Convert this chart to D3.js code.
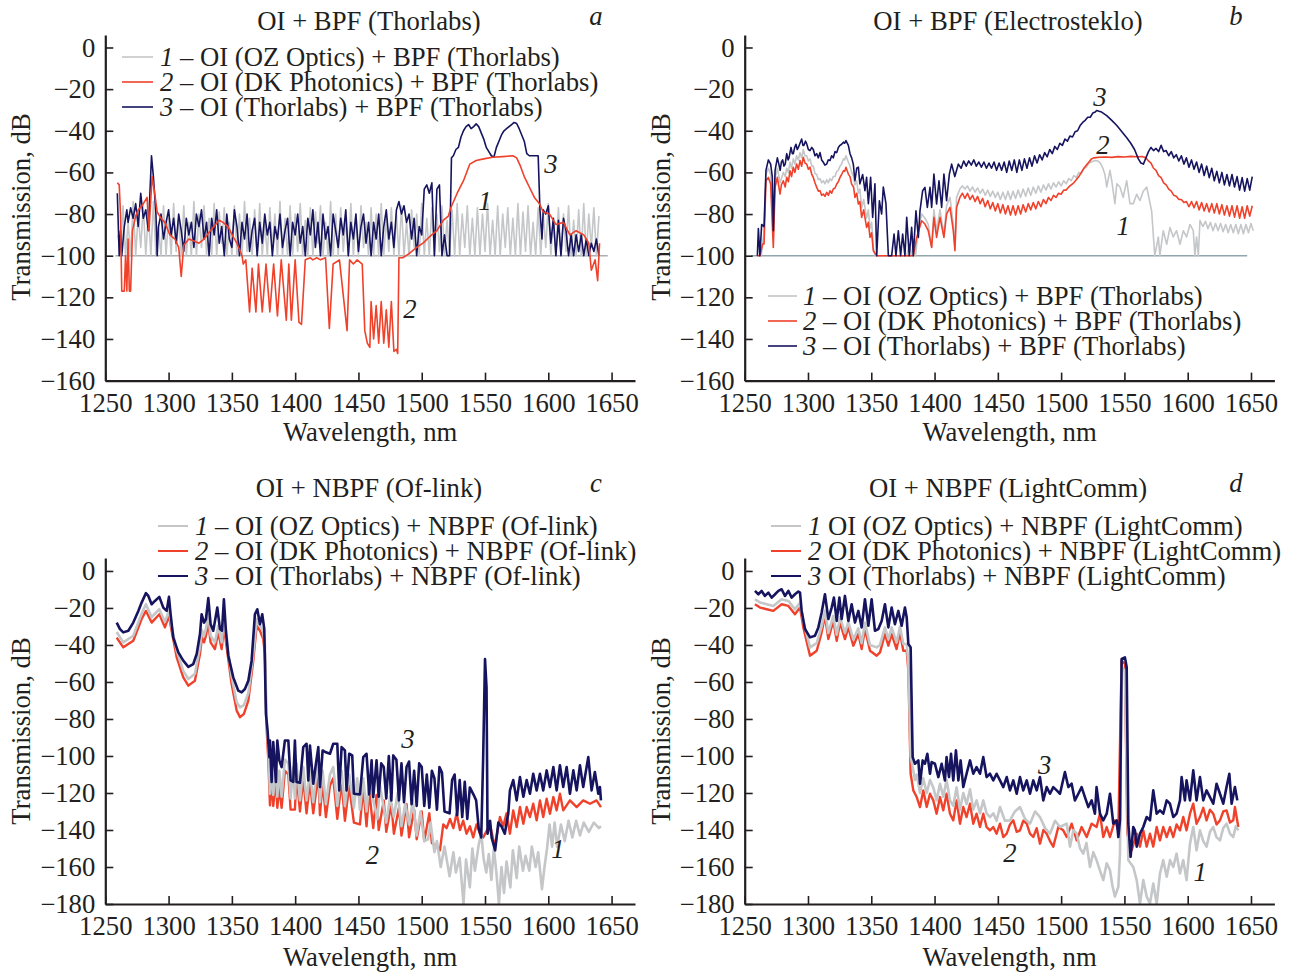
<!DOCTYPE html>
<html><head><meta charset="utf-8">
<script src="https://cdn.jsdelivr.net/npm/d3@7/dist/d3.min.js"></script>
<style>
body{margin:0;background:#fff;}
svg text{font-family:"Liberation Serif","Times New Roman",serif;fill:#231f20;}
</style></head><body>
<svg id="chart" width="1292" height="974"></svg>
<script>
// ---------------- DATA ----------------
const xTicks = [1250,1300,1350,1400,1450,1500,1550,1600,1650];
const yTicksTop = [0,-20,-40,-60,-80,-100,-120,-140,-160];
const yTicksBottom = [0,-20,-40,-60,-80,-100,-120,-140,-160,-180];
const titles = ["OI + BPF (Thorlabs)","OI + BPF (Electrosteklo)","OI + NBPF (Of-link)","OI + NBPF (LightComm)"];
const panelLetters = ["a","b","c","d"];
const legendNums = ["1","2","3"];
const legendA = [" – OI (OZ Optics) + BPF (Thorlabs)"," – OI (DK Photonics) + BPF (Thorlabs)"," – OI (Thorlabs) + BPF (Thorlabs)"];
const legendB = legendA;
const legendC = [" – OI (OZ Optics) + NBPF (Of-link)"," – OI (DK Photonics) + NBPF (Of-link)"," – OI (Thorlabs) + NBPF (Of-link)"];
const legendD = [" OI (OZ Optics) + NBPF (LightComm)"," OI (DK Photonics) + NBPF (LightComm)"," OI (Thorlabs) + NBPF (LightComm)"];
const floorDb = -100;
const floorA = [1258,1647];
const floorB = [1255,1647];
// annotation labels [nm, dB, text]
const notesA = [[1550,-73.6,"1"],[1490.7,-125.5,"2"],[1602,-55.8,"3"]];
const notesB = [[1549,-85.6,"1"],[1533,-46.6,"2"],[1530.7,-23.6,"3"]];
const notesC = [[1607.7,-150.4,"1"],[1461,-153.6,"2"],[1489,-90.6,"3"]];
const notesD = [[1609.8,-162.8,"1"],[1459.6,-152.5,"2"],[1487,-105,"3"]];

// Panel a
const sA1 = [[1260,-90],[1262,-100],[1264,-76],[1266,-100],[1268,-84],[1270,-100],[1272,-74],[1274,-100],[1276,-80],[1278,-96],[1280,-76],[1282,-100],[1284,-79],[1286,-100],[1288,-74],[1290,-100],[1292,-86],[1294,-100],[1296,-76],[1298,-100],[1300,-80],[1302,-100],[1304,-75],[1306,-98],[1308,-82],[1310,-100],[1312,-76],[1314,-100],[1316,-84],[1318,-100],[1320,-74],[1322,-100],[1324,-80],[1326,-96],[1328,-76],[1330,-100],[1332,-82],[1334,-100],[1336,-75],[1338,-100],[1340,-79],[1342,-94],[1344,-77],[1346,-100],[1348,-84],[1350,-100],[1352,-76],[1354,-100],[1356,-80],[1358,-100],[1360,-74],[1362,-98],[1364,-82],[1366,-100],[1368,-78],[1370,-100],[1372,-75],[1374,-100],[1376,-84],[1378,-100],[1380,-77],[1382,-96],[1384,-80],[1386,-100],[1388,-74],[1390,-100],[1392,-82],[1394,-100],[1396,-76],[1398,-100],[1400,-80],[1402,-98],[1404,-75],[1406,-100],[1408,-83],[1410,-100],[1412,-77],[1414,-100],[1416,-79],[1418,-94],[1420,-76],[1422,-100],[1424,-84],[1426,-100],[1428,-74],[1430,-100],[1432,-80],[1434,-100],[1436,-77],[1438,-98],[1440,-82],[1442,-100],[1444,-75],[1446,-100],[1448,-80],[1450,-100],[1452,-76],[1454,-96],[1456,-84],[1458,-100],[1460,-77],[1462,-100],[1464,-80],[1466,-100],[1468,-75],[1470,-100],[1472,-82],[1474,-98],[1476,-77],[1478,-100],[1480,-80],[1482,-100],[1484,-76],[1486,-100],[1488,-84],[1490,-100],[1492,-78],[1494,-96],[1496,-80],[1498,-100],[1500,-75],[1502,-100],[1504,-82],[1506,-100],[1508,-77],[1510,-100],[1512,-80],[1514,-98],[1516,-76],[1518,-100],[1520,-83],[1522,-100],[1524,-78],[1526,-100],[1528,-75],[1530,-100],[1532,-80],[1534,-96],[1536,-76],[1538,-100],[1540,-82],[1542,-100],[1544,-77],[1546,-100],[1548,-80],[1550,-98],[1552,-75],[1554,-100],[1556,-83],[1558,-100],[1560,-76],[1562,-100],[1564,-80],[1566,-96],[1568,-77],[1570,-100],[1572,-82],[1574,-100],[1576,-75],[1578,-100],[1580,-79],[1582,-98],[1584,-76],[1586,-100],[1588,-84],[1590,-100],[1592,-77],[1594,-100],[1596,-80],[1598,-96],[1600,-75],[1602,-100],[1604,-82],[1606,-100],[1608,-77],[1610,-100],[1612,-80],[1614,-98],[1616,-76],[1618,-100],[1620,-83],[1622,-100],[1624,-78],[1626,-100],[1628,-75],[1630,-100],[1632,-80],[1634,-96],[1636,-77],[1638,-100],[1640,-81]];
const sA2 = [[1259.5,-65],[1261,-66],[1262,-80],[1263,-117],[1265,-117],[1266,-100],[1267,-117],[1268,-92],[1269,-117],[1270,-117],[1271.5,-88],[1274,-81],[1276,-78],[1279,-76],[1281,-74],[1283,-72],[1284.5,-88],[1287,-62],[1289,-70],[1291,-79],[1294,-82],[1297,-84],[1301,-90],[1305,-92],[1308,-96],[1310,-110],[1312,-95],[1316,-92],[1320,-93],[1324,-94],[1328,-92],[1333,-88],[1340,-83],[1343,-84],[1347,-86],[1351,-91],[1354,-94],[1358,-100],[1359,-104],[1361,-102],[1364,-127],[1366,-106],[1369,-127],[1371,-104],[1374,-127],[1377,-104],[1380,-127],[1383,-104],[1386,-129],[1389,-102],[1393,-131],[1395,-104],[1397,-131],[1400,-102],[1403,-132],[1405,-133],[1408,-102],[1412,-101],[1414,-102],[1417,-101],[1420,-102],[1424,-101],[1427,-135],[1430,-104],[1435,-102],[1441,-136],[1443,-102],[1446,-104],[1449,-102],[1453,-104],[1455,-136],[1457,-142],[1459,-144],[1460,-122],[1462,-140],[1464,-124],[1466,-142],[1468,-122],[1470,-142],[1472,-126],[1474,-144],[1476,-122],[1478,-146],[1480,-145],[1481,-147],[1482,-101],[1485,-101],[1490,-99],[1496,-96],[1501,-94],[1506,-91],[1512,-88],[1517,-83],[1521,-81],[1523,-77],[1528,-70],[1533,-64],[1538,-56],[1543,-54.3],[1549,-53.5],[1556,-52.7],[1564,-52.4],[1572,-52],[1575,-53],[1578,-57],[1581,-62],[1585,-67],[1589,-72],[1593,-75],[1596,-79],[1601,-80],[1606,-85],[1612,-84],[1617,-90],[1622,-88],[1628,-90],[1632,-94],[1634,-107],[1637,-102],[1639,-112],[1640.5,-94]];
const sA3 = [[1259.5,-70],[1261,-100],[1262,-88],[1263,-100],[1265,-86],[1267,-78],[1268,-84],[1270,-77],[1272,-82],[1274,-75],[1276,-86],[1278,-70],[1280,-82],[1282,-78],[1284,-88],[1286.5,-52],[1288,-62],[1290,-80],[1291,-100],[1292,-86],[1294,-80],[1296,-92],[1298,-84],[1300,-78],[1302,-90],[1304,-82],[1306,-94],[1308,-80],[1310,-88],[1312,-98],[1314,-82],[1316,-90],[1318,-84],[1320,-96],[1322,-80],[1324,-86],[1326,-78],[1328,-92],[1330,-84],[1332,-100],[1334,-82],[1336,-90],[1338,-78],[1340,-94],[1342,-86],[1344,-100],[1346,-80],[1348,-92],[1350,-96],[1352,-78],[1354,-86],[1356,-100],[1358,-84],[1360,-92],[1362,-80],[1364,-98],[1366,-88],[1368,-82],[1370,-100],[1372,-84],[1374,-94],[1376,-80],[1378,-90],[1380,-84],[1382,-100],[1384,-86],[1386,-92],[1388,-80],[1390,-96],[1392,-88],[1394,-82],[1396,-100],[1398,-84],[1400,-90],[1402,-80],[1404,-94],[1406,-86],[1408,-100],[1410,-82],[1412,-90],[1414,-78],[1416,-96],[1418,-84],[1420,-100],[1422,-80],[1424,-92],[1426,-86],[1428,-100],[1430,-80],[1432,-88],[1434,-96],[1436,-82],[1438,-90],[1440,-78],[1442,-100],[1444,-84],[1446,-92],[1448,-80],[1450,-98],[1452,-86],[1454,-80],[1456,-94],[1458,-84],[1460,-100],[1462,-84],[1464,-92],[1466,-80],[1468,-100],[1470,-86],[1472,-78],[1474,-92],[1476,-84],[1478,-96],[1480,-78],[1482,-74],[1484,-80],[1486,-76],[1488,-84],[1490,-80],[1492,-92],[1494,-82],[1496,-100],[1498,-86],[1500,-90],[1502,-68],[1504,-66],[1506,-70],[1508,-65],[1510,-100],[1512,-68],[1514,-66],[1516,-100],[1518,-90],[1520,-100],[1522,-100],[1523.5,-53],[1525,-52],[1527,-49],[1529,-48],[1531,-43],[1533,-40],[1535,-38],[1537,-37],[1539,-39],[1541,-38],[1543,-36.7],[1545,-38],[1547,-41],[1549,-44],[1551,-48],[1553,-50],[1555,-52],[1557,-52.7],[1559,-48],[1561,-45],[1563,-42],[1565,-40],[1567,-39],[1569,-38],[1571,-37],[1573,-36],[1575,-36.5],[1577,-39],[1579,-42],[1581,-45],[1583,-51],[1585,-52],[1588,-52],[1592,-52],[1593.4,-78],[1595,-92],[1596,-78],[1598,-80],[1600,-76],[1602,-94],[1604,-82],[1606,-100],[1608,-83],[1610,-100],[1612,-82],[1614,-88],[1616,-100],[1618,-90],[1620,-100],[1622,-90],[1624,-98],[1626,-90],[1628,-100],[1630,-92],[1632,-100],[1634,-94],[1636,-98],[1638,-92],[1640,-100]];

// Panel b
const sB1 = [[1260,-100],[1263,-100],[1265,-90],[1266.8,-61],[1268.7,-58],[1270.5,-61],[1272.6,-92],[1274,-63],[1275.8,-58],[1278,-65],[1280.5,-60],[1282,-62],[1283.2,-58],[1284.5,-60],[1285.8,-55],[1287,-58],[1288.4,-53.5],[1289.7,-56],[1291,-52],[1292.4,-54],[1293.7,-50.5],[1295,-53],[1296.3,-49],[1297.6,-52],[1299,-52],[1300.3,-54.5],[1301.6,-53.5],[1303,-57],[1304.2,-57],[1305.5,-60.5],[1306.9,-61],[1308.2,-63.5],[1309.5,-63],[1310.8,-65],[1312.1,-64],[1313.4,-65.5],[1314.8,-63.5],[1316.1,-65],[1317.4,-63],[1318.7,-64],[1320,-62],[1321.4,-62],[1322.7,-59.5],[1324,-59],[1325.3,-57],[1326.6,-56],[1328,-53.5],[1329,-54],[1330,-52],[1331.9,-55],[1333.2,-57],[1334.5,-60],[1336,-62],[1337.1,-66],[1338.5,-64],[1339.8,-70],[1341,-68],[1342.4,-77],[1344,-73],[1346.3,-82],[1347.7,-78],[1349,-87],[1350.3,-84],[1351.6,-96],[1353,-100],[1378,-100],[1380,-95],[1381.9,-100],[1383.5,-92],[1385,-100],[1387,-88],[1389.8,-80],[1392.4,-82],[1395,-85],[1397.7,-96],[1399.5,-78],[1401.6,-88],[1404.3,-78],[1407.4,-90],[1409.5,-76],[1412.2,-72],[1414.8,-85],[1416.1,-96],[1417.4,-72],[1420,-68],[1422,-66.5],[1424,-68],[1426,-66.5],[1428,-69],[1430,-67],[1432,-69.5],[1434,-67.5],[1436,-70],[1438,-68],[1440,-71],[1442,-68.5],[1444,-71.5],[1446,-69],[1448,-72],[1450,-69.5],[1452,-73],[1454,-69.5],[1456,-73],[1458,-69],[1460,-73],[1462,-69],[1464,-72.5],[1466,-68.5],[1468,-72],[1470,-68],[1472,-71.5],[1474,-67.5],[1476,-71],[1478,-67],[1480,-70],[1482,-66.5],[1484,-69.5],[1486,-66],[1488,-68.5],[1490,-65.5],[1492,-68],[1494,-65],[1496,-67],[1498,-64.5],[1500,-66.5],[1502,-64],[1504,-65.5],[1506,-63],[1508,-64],[1510,-61.5],[1512,-62.5],[1514,-60],[1516,-60.5],[1518,-58],[1520,-57.5],[1522,-55.5],[1524,-55],[1526.7,-54.3],[1529,-54.5],[1531,-55.5],[1533,-58],[1534.6,-61],[1536,-67],[1538.6,-59],[1540,-64],[1542.5,-75],[1544,-65.5],[1546.5,-67],[1549,-72],[1551.8,-64],[1554.4,-75],[1557,-75],[1559.7,-70.5],[1562.3,-73.5],[1564.9,-69],[1567.6,-67],[1571.5,-78.5],[1574,-100],[1576.8,-91],[1578,-100],[1580.7,-88],[1583.4,-94.5],[1586,-86.5],[1588.6,-91],[1591.2,-88],[1593.9,-94.5],[1596.5,-88],[1599.1,-91],[1601.8,-85],[1604.4,-88],[1605.7,-100],[1607,-91],[1608.4,-100],[1609.7,-83],[1612,-86],[1614,-83.5],[1616,-87],[1618,-84],[1620,-88],[1622,-84.5],[1624,-88],[1626,-84.5],[1628,-88.5],[1630,-85],[1632,-89],[1634,-85],[1636,-89],[1638,-85],[1640,-89.5],[1642,-85],[1644,-89.5],[1646,-85],[1648,-89],[1650,-84.5],[1651.8,-88]];
const sB2 = [[1260,-100],[1262.1,-100],[1264.2,-94.4],[1265.3,-94.4],[1266.8,-64],[1268.7,-62.4],[1270.5,-65.6],[1272.6,-96],[1274,-67.2],[1275.8,-62.4],[1277.9,-70.4],[1279,-66],[1280.5,-64],[1282,-67],[1283.2,-62.4],[1284.5,-64.5],[1285.8,-59.2],[1287,-62],[1288.4,-57.5],[1289.7,-60],[1291,-56],[1292.4,-58.5],[1293.7,-54.3],[1295,-57],[1296.3,-52.7],[1297.6,-55.5],[1299,-56],[1300.3,-58.5],[1301.6,-57.5],[1303,-61],[1304.2,-62.4],[1305.5,-65],[1306.9,-67.2],[1308.2,-69],[1309.5,-68.8],[1310.8,-71],[1312.1,-70.4],[1313.4,-71.5],[1314.8,-69.6],[1316.1,-71],[1317.4,-68.8],[1318.7,-70],[1320,-68],[1321.4,-67.5],[1322.7,-65.6],[1324,-64.5],[1325.3,-62.4],[1326.6,-61],[1328,-59.2],[1329,-59.5],[1330,-57.5],[1331.9,-60.8],[1333.2,-62],[1334.5,-65.6],[1336,-67],[1337.1,-72],[1338.5,-70],[1339.8,-75.2],[1341,-74],[1342.4,-81.6],[1344,-78],[1346.3,-86.4],[1347.7,-84],[1349,-91.2],[1350.3,-89],[1351.6,-97.6],[1354.3,-100],[1383.2,-100],[1385.9,-91.2],[1389.8,-83.2],[1392.4,-84.8],[1395,-88],[1397.7,-96],[1399.5,-81.6],[1401.6,-91.2],[1404.3,-81.6],[1407.4,-91.2],[1409.5,-80],[1412.2,-76.8],[1414.8,-88],[1416.1,-97.6],[1417.4,-76.8],[1420,-72],[1422,-70],[1424,-72.5],[1426,-70],[1428,-73],[1430,-71],[1432,-74],[1434,-71.5],[1436,-75],[1438,-72.5],[1440,-76.5],[1442,-73.5],[1444,-77.5],[1446,-74.5],[1448,-78.5],[1450,-75],[1452,-79.5],[1454,-75.5],[1456,-80],[1458,-76],[1460,-80.5],[1462,-76],[1464,-80.5],[1466,-76],[1468,-80],[1470,-75.5],[1472,-79],[1474,-75],[1476,-78],[1478,-74.5],[1480,-77.5],[1482,-74],[1484,-76.5],[1486,-73],[1488,-75],[1490,-72],[1492,-73.5],[1494,-71],[1496,-72],[1498,-70],[1500,-70.5],[1502,-68.5],[1504,-68.5],[1506,-67],[1508,-66],[1510,-65],[1512,-63.5],[1514,-62],[1516,-60],[1518,-58],[1520,-56.5],[1522,-55],[1524,-53.5],[1526,-53],[1530,-52.7],[1535,-52.6],[1540,-52.8],[1545,-52.4],[1550,-52.6],[1555,-52.3],[1560,-52.5],[1564,-52.4],[1567,-53],[1569,-54.5],[1571,-55.5],[1573,-58],[1575,-59],[1577,-61.5],[1579,-62.5],[1581,-65],[1583,-66],[1585,-68],[1587,-69],[1589,-71],[1591,-71.5],[1593,-73],[1595,-73],[1597,-74.5],[1599,-74],[1601,-76.5],[1603,-74],[1605,-77],[1607,-74],[1609,-78],[1611,-74.5],[1613,-78.5],[1615,-75],[1617,-79],[1619,-75],[1621,-79.5],[1623,-75],[1625,-80],[1627,-75.5],[1629,-80.5],[1631,-76],[1633,-81],[1635,-76],[1637,-81.5],[1639,-76],[1641,-82],[1643,-76.5],[1645,-82],[1647,-76],[1649,-81],[1651,-76]];
const sB3 = [[1260,-100],[1260.8,-87],[1262,-100],[1263.4,-85],[1265.3,-86],[1266.8,-59],[1268.7,-54],[1270.5,-56],[1271.8,-62],[1272.6,-88],[1274,-59],[1275.8,-53],[1277,-56],[1278,-59],[1279,-55],[1280,-54],[1281,-57],[1282,-56],[1283.2,-51],[1284.3,-54],[1285,-53],[1286.6,-48],[1287.6,-51],[1288.4,-51],[1289.5,-48],[1290.5,-46.5],[1291.5,-49],[1292.4,-48],[1293.7,-46],[1295,-44],[1296,-47],[1296.8,-47],[1298,-45],[1299,-46.3],[1300.3,-49],[1301.6,-49.5],[1303,-48],[1304.2,-49],[1305.5,-52],[1306.9,-51],[1308.2,-53],[1309.5,-50.5],[1310.8,-54],[1312,-55],[1313.4,-56.5],[1314.8,-56],[1316,-54],[1317.4,-54.3],[1318.7,-52],[1320,-53],[1321.4,-50],[1322.7,-50.5],[1324,-48],[1325.3,-47],[1326.6,-46.5],[1328,-45.5],[1329,-46],[1330,-44.7],[1331.9,-47],[1333.2,-51],[1334.5,-53],[1335.8,-56],[1337.1,-64],[1338.5,-58],[1339.8,-57.5],[1341,-65.5],[1343.2,-61],[1345,-68.8],[1346.3,-62.4],[1347.7,-75],[1349.5,-62.4],[1351.1,-81.6],[1352.9,-65.5],[1354.3,-100],[1356.4,-73.6],[1358.2,-80],[1359.5,-67],[1361.6,-75],[1363.5,-100],[1366.1,-100],[1368,-89.6],[1369.5,-100],[1371.4,-88],[1373.2,-100],[1374.8,-89.6],[1376.6,-100],[1378,-81.6],[1380,-100],[1381.9,-86.4],[1383.2,-100],[1385.3,-78.4],[1387.2,-91.2],[1388.5,-78.4],[1390.6,-68.8],[1392.4,-67.2],[1394.3,-76.8],[1396.4,-67.2],[1397.7,-76.8],[1399.5,-60.8],[1401.6,-75.2],[1403.5,-64],[1405.6,-76.8],[1407.4,-60.8],[1409.5,-73.6],[1411.7,-60.8],[1413.5,-56],[1416,-62],[1418.8,-56],[1421,-58],[1423,-54.5],[1425,-57],[1427,-54.5],[1429,-56.5],[1431,-54],[1433,-57],[1435,-55],[1437,-57.5],[1439,-55],[1441,-58],[1443,-55.5],[1445,-58],[1447,-55],[1449,-59],[1451,-55.5],[1453,-59],[1455,-55],[1457,-60],[1459,-54.5],[1461,-59],[1463,-54],[1465,-60],[1467,-54],[1469,-59],[1471,-53.5],[1473,-58],[1475,-53],[1477,-57],[1479,-52],[1481,-55.5],[1483,-51.5],[1485,-54],[1487,-50.5],[1489,-52.5],[1491,-49],[1493,-51],[1495,-47.5],[1497,-49],[1499,-46],[1501,-47],[1503,-44],[1505,-45],[1507,-42.5],[1509,-43],[1511,-40.5],[1513,-40],[1515,-37.5],[1517,-36],[1519,-35],[1521,-33.5],[1523,-33.5],[1525,-31.5],[1527,-31],[1528,-30.3],[1532,-31],[1536,-32.7],[1540,-35],[1544,-37.5],[1548,-40.5],[1552,-43.5],[1555,-46],[1558,-49],[1561,-53.5],[1563,-55.5],[1565,-56],[1567,-53],[1569,-50],[1571,-48],[1573,-49.5],[1575,-48.5],[1577,-50],[1579,-47],[1581,-50],[1583,-49.5],[1585,-52],[1587,-50],[1589,-53],[1591,-51.5],[1593,-54.5],[1595,-52],[1597,-56],[1599,-53],[1601,-57.5],[1603,-54],[1605,-58.5],[1607,-55],[1609,-60],[1611,-56],[1613,-61.5],[1615,-57],[1617,-62.5],[1619,-58],[1621,-64],[1623,-59.5],[1625,-65],[1627,-60],[1629,-66],[1631,-61],[1633,-66.5],[1635,-61],[1637,-67],[1639,-62],[1641,-68.5],[1643,-62.5],[1645,-69],[1647,-63],[1649,-68.5],[1651,-62]];

// Panel c
const sC1 = [[1259,-33],[1264.2,-38.6],[1272.1,-35],[1278.7,-23],[1282.1,-18],[1286.6,-25],[1292.7,-20.7],[1297.1,-27.5],[1300.3,-21.6],[1302.4,-30],[1306.4,-43],[1311.6,-54],[1315.6,-58.4],[1320.8,-55.5],[1324.8,-41],[1326.4,-32],[1328,-35],[1329.5,-31.5],[1331.4,-23.4],[1333.2,-35],[1336.6,-38.6],[1339.3,-29.6],[1341.9,-38.6],[1343.7,-26],[1345.9,-37.7],[1349.8,-57],[1353.8,-71],[1356.4,-73.7],[1359.5,-72.5],[1363,-66],[1366.9,-45],[1369.6,-26],[1372.2,-29.6],[1374.8,-33],[1376.1,-40],[1377.4,-80],[1378.8,-95.2],[1380.1,-120.4],[1381.4,-106],[1382.7,-121],[1384.8,-104],[1385.9,-122],[1387.5,-108],[1389.3,-122],[1391.9,-102],[1394.6,-104],[1396.4,-123],[1398.5,-106],[1399.8,-123],[1401.1,-104],[1403.8,-124],[1406.4,-106],[1409,-124],[1411.7,-108],[1414.3,-125],[1416.4,-112],[1418.3,-104],[1419.6,-125],[1421.7,-108],[1424.3,-126],[1427.5,-110],[1430.1,-106],[1433.3,-127],[1436.7,-108],[1439.3,-127],[1442.7,-110],[1446.4,-128],[1449,-112],[1451.2,-129],[1453.8,-112],[1456.4,-130],[1458.5,-114],[1461.7,-124],[1465,-134],[1467,-116],[1470,-128],[1472,-136],[1475,-122],[1478,-133],[1481,-120],[1484,-138],[1487,-126],[1490,-137],[1493,-124],[1496,-143],[1499,-130],[1502,-146],[1505,-145],[1507,-136],[1510,-152],[1512,-146],[1515,-160],[1518,-149],[1522,-165],[1525,-152],[1527,-163],[1530,-155],[1533,-180],[1535,-156],[1538,-171],[1540,-150],[1542,-162],[1545,-148],[1547,-142],[1549,-156],[1551,-163],[1553,-153],[1555,-167],[1557,-150],[1559,-163],[1561,-180],[1563,-160],[1565,-174],[1567,-157],[1570,-171],[1572,-151],[1575,-166],[1577,-149],[1580,-162],[1582,-154],[1585,-162],[1587,-149],[1590,-160],[1592,-152],[1595,-172],[1597,-160],[1599,-150],[1601,-137],[1603,-149],[1605,-136],[1607,-149],[1610,-137],[1613,-146],[1616,-135],[1619,-144],[1622,-135],[1625,-143],[1628,-136],[1632,-141],[1636,-136],[1640,-139],[1641.6,-138]];
const sC2 = [[1259,-36],[1264.2,-41.3],[1272.1,-37.7],[1278.7,-26],[1282.1,-21.6],[1286.6,-27.9],[1292.7,-23.4],[1297.1,-30.5],[1300.3,-24.3],[1302.4,-32.3],[1306.4,-46.7],[1311.6,-57.5],[1315.6,-62],[1320.8,-59.3],[1324.8,-44.9],[1326.4,-35.9],[1328,-38.6],[1329.5,-35],[1331.4,-28],[1333.2,-38.6],[1336.6,-42.2],[1339.3,-33.2],[1341.9,-42.2],[1343.7,-30.5],[1345.9,-41.3],[1349.8,-61.1],[1353.8,-75.5],[1356.4,-79],[1359.5,-77.3],[1363,-70.1],[1366.9,-48.5],[1369.6,-29.6],[1372.2,-32.3],[1374.8,-36.8],[1376.1,-44.9],[1377.4,-84.5],[1378.8,-102.4],[1380.1,-126.7],[1381.4,-114],[1382.7,-127],[1384.8,-112],[1385.9,-128],[1387.5,-117],[1389.3,-128],[1391.9,-108],[1394.6,-110],[1396.4,-129],[1399.8,-129],[1401.1,-110],[1403.8,-130],[1406.4,-112],[1409,-131],[1411.7,-114],[1414.3,-131],[1418.3,-110],[1419.6,-132],[1421.7,-114],[1424.3,-133],[1427.5,-116],[1430.1,-112],[1433.3,-134],[1436.7,-114],[1439.3,-135],[1442.7,-116],[1446.4,-136],[1451.2,-137],[1453.8,-117],[1456.4,-138],[1458.5,-119],[1461.7,-139],[1464.3,-121],[1466,-140],[1470,-124],[1472,-141],[1476,-126],[1478,-142],[1482,-128],[1484,-143],[1488,-126],[1490,-144],[1494,-129],[1496,-145],[1500,-130],[1502,-146],[1506,-131],[1508,-147],[1511.8,-149],[1514.4,-151],[1517,-137],[1519.7,-139],[1522.3,-134],[1525,-139],[1527.6,-131],[1530.2,-140],[1532.8,-135],[1535.4,-142],[1538.1,-138],[1540.7,-144],[1543.3,-137],[1546,-142],[1548.6,-144],[1553.9,-137],[1557.8,-149],[1561.8,-133],[1564.4,-138],[1567,-131],[1569.7,-142],[1572.3,-129.4],[1575,-138.4],[1577.6,-127.6],[1580.3,-136.6],[1582.9,-127.6],[1585.5,-133],[1588.1,-125.8],[1590.8,-134.8],[1593.4,-124],[1596,-133],[1598.7,-123.1],[1601.3,-131.2],[1604,-122.2],[1606.6,-129.4],[1609.2,-120.4],[1611.8,-129.4],[1617.1,-124],[1622.4,-127.6],[1627.6,-124],[1632.9,-125.8],[1638.1,-124],[1641.6,-127.6]];
const sC3 = [[1259,-27.9],[1261.6,-31.4],[1264.2,-33.2],[1268.2,-32.3],[1272.1,-27.9],[1276.1,-21.6],[1278.7,-17.1],[1282.1,-12],[1284,-13.5],[1286.6,-18],[1289.2,-16.2],[1292.7,-14],[1295.8,-19.8],[1298.5,-21.6],[1300.3,-14],[1301.6,-23.4],[1303.7,-36],[1307.7,-44],[1311.6,-48.5],[1315.6,-51.8],[1319.5,-50.3],[1322.2,-44.9],[1324.8,-34.1],[1326.1,-23.4],[1328,-27.9],[1329.5,-26.1],[1331.4,-14.7],[1333.2,-28.8],[1335.3,-32.3],[1338.5,-19.8],[1340.6,-31.4],[1342.2,-32.3],[1343.7,-15.3],[1345.3,-32.3],[1347.2,-45.8],[1351.1,-57.5],[1355.1,-64.7],[1357.7,-65.6],[1360.3,-63.8],[1363,-59.3],[1365.6,-48.5],[1368.2,-23.4],[1370.1,-20.7],[1372.2,-28.8],[1374,-23.4],[1375.6,-31.4],[1376.9,-77.3],[1378.2,-86.3],[1379.6,-100.6],[1380.1,-91.6],[1381.4,-114],[1382.7,-92.5],[1384.8,-114],[1385.9,-91.6],[1387.5,-102.4],[1389.3,-106],[1391.9,-91.6],[1394.6,-91.6],[1396.4,-113.2],[1398.5,-114],[1399.8,-91.6],[1401.1,-114],[1403.8,-114.5],[1406.4,-95.2],[1409,-93.4],[1410.4,-113.2],[1411.7,-94.3],[1414.3,-115],[1416.4,-104.2],[1418.3,-95.2],[1419.6,-116.8],[1421.7,-97],[1424.3,-98],[1427.5,-98.8],[1430.1,-93.4],[1433.3,-93.4],[1434.8,-118.6],[1436.7,-95.2],[1439.3,-97],[1440.6,-118.6],[1442.7,-98.8],[1445.1,-99.7],[1446.4,-120.4],[1451.2,-120.8],[1453.8,-100.6],[1456.4,-98.8],[1458.5,-120.8],[1460.4,-102.4],[1461.7,-122.2],[1464.3,-102.4],[1466,-122],[1468,-104],[1470,-106],[1472,-123],[1474,-100],[1476,-124],[1477.5,-99.7],[1480,-102],[1482,-124],[1484,-104],[1486,-125],[1488,-106],[1490,-103],[1492,-126],[1494,-108],[1496,-127],[1498,-104],[1500,-106],[1502,-127],[1504,-110],[1506,-128],[1508,-108],[1510,-112],[1512,-129],[1514,-106],[1516,-109],[1518,-130],[1522,-131],[1524,-113],[1526,-110],[1528,-132],[1530,-113],[1532,-133],[1534,-114],[1536,-134],[1538,-117],[1541,-121],[1543,-124],[1545,-139],[1547,-144],[1548.5,-102],[1550,-47.6],[1551.2,-63],[1552,-142],[1554,-135],[1555.2,-144],[1558,-151],[1560.5,-136],[1563,-138],[1565.6,-142],[1568.4,-131],[1569.7,-118.6],[1572.3,-113],[1575,-124],[1577.6,-111.4],[1580.3,-122],[1582.9,-113],[1585.5,-120.4],[1588.1,-109.6],[1590.8,-118.6],[1593.4,-109.6],[1596,-118.6],[1598.7,-107.8],[1601.3,-116.8],[1604,-106],[1606.6,-118.6],[1609.2,-105],[1611.8,-116.8],[1614.5,-106],[1617.1,-120.4],[1619.8,-107.8],[1622.4,-118.6],[1625,-105],[1627.6,-116.8],[1631.6,-100.6],[1634.2,-118.6],[1636.8,-108.7],[1639.5,-120.4],[1640.8,-116.8],[1641.6,-124]];

// Panel d
const sD1 = [[1258.1,-15.3],[1262,-17],[1267.4,-18],[1272.6,-19],[1279.2,-15.3],[1284.5,-16.2],[1289.7,-20.7],[1293.7,-17],[1296.3,-27],[1301.6,-41.3],[1306.9,-39],[1310.8,-30],[1313.4,-21.6],[1316.1,-33.5],[1320,-24.3],[1322.7,-34.5],[1325.3,-25],[1329.2,-33.5],[1331.9,-27.5],[1335.8,-37],[1339.8,-31],[1342.4,-39],[1345,-28],[1349,-40],[1354.3,-41.3],[1356.9,-40],[1360.8,-30.5],[1363.5,-37],[1366.1,-30.5],[1370,-38.6],[1372.7,-30],[1375.3,-39.5],[1378,-39.5],[1379.3,-50],[1381.1,-100],[1382.7,-106],[1384.5,-113],[1386,-110],[1388.5,-120],[1391,-112],[1393.8,-120],[1396.4,-113],[1399,-117],[1401.6,-124],[1404.3,-115],[1406.9,-122],[1409.5,-113],[1412.2,-124],[1414.8,-127],[1417.4,-117],[1420.1,-129],[1422.7,-120],[1425.3,-126],[1428,-118],[1430.6,-129],[1433.2,-124],[1435.9,-131],[1438.5,-124],[1441.1,-131],[1443.8,-133],[1446.4,-131],[1449,-135],[1451.7,-127.6],[1455.6,-135],[1459.6,-134.8],[1463.5,-130],[1467.5,-127.6],[1471.5,-134],[1475.4,-136.6],[1479.4,-130],[1483.3,-133],[1487.3,-139],[1491.2,-142],[1495.2,-135],[1499.1,-138.4],[1504.4,-136.6],[1507,-149],[1509.7,-140],[1512.3,-142],[1515,-150],[1517.5,-152.8],[1520,-147],[1522.8,-160],[1525.4,-152],[1528,-156.3],[1530.7,-162],[1533.3,-167.1],[1536,-158],[1538.6,-161.7],[1540.5,-170],[1542.5,-176],[1545.2,-170.7],[1546.5,-152.8],[1547.8,-52],[1550.4,-54],[1553.1,-156.3],[1557,-160],[1559.7,-167.1],[1562.3,-179.7],[1564.9,-167.1],[1567.6,-176],[1570.2,-179.7],[1572.8,-168.9],[1575.5,-179.7],[1578.1,-163.5],[1580.7,-156.3],[1583.4,-165.3],[1586,-156.3],[1588.6,-160],[1591.2,-152.8],[1593.9,-163.5],[1596.5,-156.3],[1599.1,-167.1],[1601.8,-147.4],[1604.4,-138.4],[1607,-151],[1609.7,-140.2],[1612.3,-146],[1614.9,-149],[1617.6,-141],[1620.2,-138.4],[1622.8,-144],[1625.5,-145.6],[1628.1,-139],[1630.7,-136.6],[1633.4,-142],[1636,-143.8],[1638,-138],[1640,-140.2]];
const sD2 = [[1258.1,-18],[1262.1,-19.8],[1267.4,-20.7],[1272.6,-21.6],[1279.2,-18],[1284.5,-18.9],[1289.7,-23.4],[1293.7,-19.8],[1296.3,-30.5],[1301.6,-45.8],[1306.9,-43.1],[1310.8,-33.2],[1313.4,-24.3],[1316.1,-36.8],[1320,-27],[1322.7,-37.7],[1325.3,-27.9],[1329.2,-36.8],[1331.9,-30.5],[1335.8,-40.4],[1339.8,-34.1],[1342.4,-42.2],[1345,-31.4],[1349,-43.1],[1354.3,-45.8],[1356.9,-44],[1360.8,-34.1],[1363.5,-40.4],[1366.1,-34.1],[1370,-42.2],[1372.7,-33.2],[1375.3,-43.1],[1378,-43.1],[1379.3,-53.9],[1381.1,-109.6],[1383.2,-118.6],[1385.9,-122.2],[1388.5,-127.6],[1391.1,-118.6],[1393.8,-127.6],[1396.4,-120.4],[1399,-124],[1401.6,-131.2],[1404.3,-122.2],[1406.9,-129.4],[1409.5,-120.4],[1412.2,-131.2],[1414.8,-134.8],[1417.4,-124],[1420.1,-136.6],[1422.7,-127.6],[1425.3,-133],[1428,-125.8],[1430.6,-136.6],[1433.2,-131.2],[1435.9,-138.4],[1438.5,-131.2],[1441.1,-138.4],[1443.8,-140.2],[1446.4,-138.4],[1449,-142],[1451.7,-136.6],[1454.3,-143.8],[1457,-142],[1459.6,-137],[1462.2,-134.8],[1464.9,-141],[1467.5,-140.2],[1470.1,-135],[1472.8,-136.6],[1475.4,-142],[1478,-143.8],[1480.7,-139],[1483.3,-147.4],[1486,-140],[1488.6,-142],[1491.2,-146],[1493.8,-149],[1497.8,-138.4],[1501.7,-140.2],[1504.4,-143.8],[1508.3,-136.6],[1512.3,-145.6],[1516.2,-138.4],[1520.2,-143.8],[1524.1,-136.6],[1528,-138.4],[1530.7,-131.2],[1533.3,-143.8],[1536,-138.4],[1538.6,-143.8],[1542.5,-134.8],[1545.2,-140.2],[1547.8,-48.5],[1550.4,-50.3],[1552.3,-142],[1555.7,-151],[1559.7,-142],[1562.3,-149],[1564.9,-140.2],[1567.6,-149],[1570.2,-142],[1572.8,-149],[1575.5,-138.4],[1578.1,-145.6],[1580.7,-138.4],[1583.4,-143.8],[1586,-138.4],[1588.6,-143.8],[1591.2,-137],[1593.9,-140.2],[1596.5,-133],[1599.1,-140.2],[1601.8,-131.2],[1604.4,-125.8],[1607,-136.6],[1609.7,-133],[1612.3,-128],[1614.9,-134.8],[1617.6,-129],[1620.2,-131.2],[1622.8,-137],[1625.5,-134.8],[1628.1,-130],[1630.7,-129.4],[1633.4,-136],[1636,-134.8],[1637.3,-127.6],[1640,-138.4]];
const sD3 = [[1258.1,-10.8],[1260.8,-12.6],[1263.4,-10.8],[1266,-13.5],[1268.7,-11.7],[1271.3,-14.4],[1274,-12.6],[1276.6,-10.8],[1279.2,-9.9],[1281.8,-13.5],[1284.5,-10.8],[1287.1,-14.4],[1289.7,-12.6],[1292.4,-11.1],[1293.7,-11.7],[1295,-21.6],[1297.6,-31.4],[1301.6,-35.9],[1305.5,-35],[1308.2,-30.5],[1310.8,-22.5],[1313.4,-12.6],[1316.1,-26],[1318.7,-19.8],[1320.5,-14.4],[1322.7,-27],[1324.8,-14.4],[1326.6,-26],[1329.2,-13.5],[1331.9,-27],[1334.5,-18],[1337.1,-27.9],[1339.8,-21.6],[1342.4,-30.5],[1345,-15.3],[1347.7,-29.6],[1350.3,-15.3],[1352.9,-32.3],[1355.6,-31.4],[1358.2,-27],[1360.8,-18],[1363.5,-30.5],[1366.1,-19.8],[1368.7,-28.8],[1371.4,-21.6],[1374,-29.6],[1376.6,-19.8],[1378,-25.2],[1379.3,-39.5],[1381.1,-41.3],[1382.7,-100.6],[1384.5,-104.2],[1387.2,-102.4],[1388.5,-115],[1390.6,-102.4],[1392.4,-104.2],[1394.3,-98.8],[1396.4,-109.6],[1397.7,-103.3],[1400.3,-104.2],[1403,-111.4],[1405.6,-104.2],[1408.2,-113.2],[1409.5,-100.6],[1411.4,-111.4],[1413,-98.8],[1414.8,-113.2],[1416.9,-97],[1418.8,-113.2],[1420.6,-102.4],[1422.7,-116.8],[1425.3,-109.6],[1428,-102.4],[1430.6,-109.6],[1433.2,-106],[1435.9,-109.6],[1438.5,-100.6],[1441.1,-111.4],[1443.8,-109.6],[1446.4,-113.2],[1449,-109.6],[1451.7,-113.2],[1454.3,-116.8],[1457,-111.4],[1459.6,-118.6],[1462.2,-113.2],[1464.9,-120.4],[1467.5,-111.4],[1470.1,-118.6],[1472.8,-113.2],[1475.4,-120.4],[1478,-113.2],[1480.7,-118.6],[1483.3,-111.4],[1485.9,-124],[1488.6,-116.8],[1491.2,-120.4],[1493.8,-116.8],[1496.5,-118.6],[1499.1,-120.4],[1503,-108.7],[1505.7,-116.8],[1508.3,-115],[1510.9,-124],[1513.6,-120.4],[1516.2,-116.8],[1518.8,-122.2],[1521.5,-127.6],[1524.1,-124],[1526.7,-131.2],[1528,-116.8],[1530.7,-131.2],[1533.3,-134.8],[1536,-131.2],[1538.6,-120.4],[1541.2,-136.6],[1543.9,-134.8],[1545.2,-143.8],[1546.5,-134.8],[1547.8,-47.6],[1550.4,-46.7],[1551.8,-52.1],[1553.1,-136.6],[1554.9,-154.5],[1557,-138.4],[1558.3,-140.2],[1559.7,-149],[1562.3,-142],[1564.9,-138.4],[1567.6,-133],[1570.2,-134.8],[1572.8,-118.6],[1575.5,-131.2],[1578.1,-129.4],[1580.7,-131.2],[1583.4,-124],[1586,-125.8],[1588.6,-133],[1591.2,-131.2],[1593.9,-124],[1595.2,-111.4],[1597.8,-124],[1599.1,-113.2],[1601.8,-124],[1604.4,-107.8],[1607,-124],[1609.7,-111.4],[1612.3,-124],[1614.9,-118.6],[1617.6,-122.2],[1620.2,-125.8],[1622.8,-115],[1625.5,-120.4],[1628.1,-125.8],[1630.7,-116.8],[1632.9,-109.6],[1634.7,-125.8],[1637.3,-116.8],[1639.2,-124]];

// ---------------- DRAWING ----------------
const colors = ["#c4c6c8", "#f0412b", "#16145e"];
const floorColors = ["#aab0b4", "#92a6ae"];
const svg = d3.select("#chart");
const FS = 26.7;

const panels = [
  {series:[sA1,sA2,sA3], order:[0,2,1], xr:[105.3,635], yr:[380.6,35], yd:[-160,6], yTicks:yTicksTop,
   title:titles[0], titleX:369, titleY:30, letter:panelLetters[0], letterX:596, letterY:25,
   ylabX:30, ylabY:207, xlabY:441, leg:legendA, legL:[122,153], legT:160, legY:[57,82,107],
   notes:notesA, floor:floorA, floorColor:floorColors[0], lw:[1.6,1.6,1.6], legLw:1.6},
  {series:[sB1,sB2,sB3], order:[0,1,2], xr:[744.7,1274.4], yr:[380.6,35], yd:[-160,6], yTicks:yTicksTop,
   title:titles[1], titleX:1008, titleY:30, letter:panelLetters[1], letterX:1236, letterY:25,
   ylabX:670, ylabY:207, xlabY:441, leg:legendB, legL:[768,797], legT:803, legY:[296,321,346],
   notes:notesB, floor:floorB, floorColor:floorColors[1], lw:[1.6,1.6,1.6], legLw:1.6},
  {series:[sC1,sC2,sC3], order:[1,0,2], xr:[105.3,635], yr:[904,558], yd:[-180,7], yTicks:yTicksBottom,
   title:titles[2], titleX:369, titleY:497, letter:panelLetters[2], letterX:596, letterY:492,
   ylabX:30, ylabY:731, xlabY:966, leg:legendC, legL:[158,188], legT:195, legY:[526,551,576],
   notes:notesC, floor:null, lw:[2.6,2.4,2.6], legLw:2},
  {series:[sD1,sD2,sD3], order:[1,0,2], xr:[744.7,1274.4], yr:[904,558], yd:[-180,7], yTicks:yTicksBottom,
   title:titles[3], titleX:1008, titleY:497, letter:panelLetters[3], letterX:1236, letterY:492,
   ylabX:670, ylabY:731, xlabY:966, leg:legendD, legL:[771,801], legT:808, legY:[526,551,576],
   notes:notesD, floor:null, lw:[2.6,2.4,2.6], legLw:2}
];

panels.forEach(p => {
  const x = d3.scaleLinear().domain([1250, 1668.5]).range(p.xr);
  const y = d3.scaleLinear().domain(p.yd).range(p.yr);
  const g = svg.append("g");

  if (p.floor) {
    g.append("line").attr("x1", x(p.floor[0])).attr("x2", x(p.floor[1]))
      .attr("y1", y(floorDb)).attr("y2", y(floorDb))
      .attr("stroke", p.floorColor).attr("stroke-width", 1.6);
  }
  const line = d3.line().x(d => x(d[0])).y(d => y(d[1]));
  p.order.forEach(i => {
    g.append("path").datum(p.series[i]).attr("d", line)
      .attr("fill", "none").attr("stroke", colors[i]).attr("stroke-width", p.lw[i])
      .attr("stroke-linejoin", "round");
  });

  const xa = g.append("g").attr("transform", `translate(0,${p.yr[0]})`)
    .call(d3.axisBottom(x).tickValues(xTicks).tickSize(-8).tickSizeOuter(0).tickPadding(12).tickFormat(d3.format("d")));
  const ya = g.append("g").attr("transform", `translate(${p.xr[0]},0)`)
    .call(d3.axisLeft(y).tickValues(p.yTicks).tickSize(-8).tickSizeOuter(0).tickPadding(10));
  [xa, ya].forEach(a => {
    a.attr("font-size", FS).attr("font-family", "Liberation Serif, Times New Roman, serif");
    a.select(".domain").attr("stroke", "#231f20").attr("stroke-width", 2.2);
    a.selectAll(".tick line").attr("stroke", "#231f20").attr("stroke-width", 1.6);
    a.selectAll(".tick text").attr("fill", "#231f20");
  });

  g.append("text").attr("x", (p.xr[0] + x(1668.5)) / 2).attr("y", p.xlabY)
    .attr("text-anchor", "middle").attr("font-size", FS).text("Wavelength, nm");
  g.append("text").attr("transform", `translate(${p.ylabX},${p.ylabY}) rotate(-90)`)
    .attr("text-anchor", "middle").attr("font-size", FS).text("Transmission, dB");
  g.append("text").attr("x", p.titleX).attr("y", p.titleY).attr("text-anchor", "middle")
    .attr("font-size", FS).text(p.title);
  g.append("text").attr("x", p.letterX).attr("y", p.letterY).attr("text-anchor", "middle")
    .attr("font-size", FS).attr("font-style", "italic").text(p.letter);

  p.leg.forEach((t, i) => {
    g.append("line").attr("x1", p.legL[0]).attr("x2", p.legL[1]).attr("y1", p.legY[i]).attr("y2", p.legY[i])
      .attr("stroke", colors[i]).attr("stroke-width", p.legLw);
    const tx = g.append("text").attr("x", p.legT).attr("y", p.legY[i] + 9).attr("font-size", FS);
    tx.append("tspan").attr("font-style", "italic").text(legendNums[i]);
    tx.append("tspan").text(t);
  });

  p.notes.forEach(n => {
    g.append("text").attr("x", x(n[0])).attr("y", y(n[1]) + 9).attr("text-anchor", "middle")
      .attr("font-size", FS).attr("font-style", "italic").text(n[2]);
  });
});
</script>
</body></html>
